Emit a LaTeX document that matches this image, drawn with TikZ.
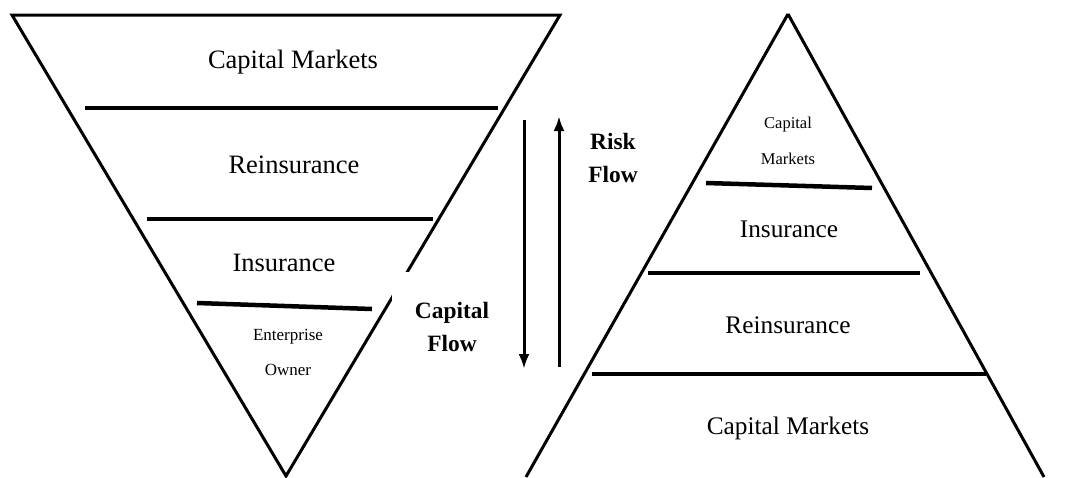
\documentclass[tikz,border=0pt]{standalone}
\usepackage{fontspec}
\setmainfont{Liberation Serif}
\usetikzlibrary{arrows.meta}

\begin{document}
\begin{tikzpicture}[x=1pt,y=-1pt,
    edge/.style={line width=3pt,line join=miter},
    band/.style={line width=4.5pt},
    flow/.style={line width=3pt,-{Latex[length=15pt,width=11pt]}},
    big/.style={font=\fontsize{26.5}{30}\selectfont},
    mid/.style={font=\fontsize{25.3}{30}\selectfont},
    tiny/.style={font=\fontsize{17}{35}\selectfont,align=center},
    bold/.style={font=\fontsize{23.4}{33}\selectfont\bfseries,align=center}]
    \useasboundingbox (0,0) rectangle (1069,477);
    % inverted triangle
    \draw[edge] (12,15) -- (560,15) -- (286,476) -- cycle;
    \draw[band] (85,108) -- (498,108);
    \draw[band] (147,219) -- (433,219);
    \draw[band] (197,303) -- (372,309);
    \node[big] (capL) at (293,62) {Capital Markets};
    \node[big] (reinL) at (294,165) {Reinsurance};
    \node[big] (insL) at (284,263) {Insurance};
    \node[tiny] (entL) at (288,352) {Enterprise\\Owner};
    \node[bold,fill=white,minimum width=121pt,minimum height=110pt] (capflow) at (452,327) {Capital\\Flow};
    % flows
    \coordinate (capTop) at (524,120);
    \coordinate (capBot) at (524,369);
    \coordinate (riskBot) at (559,367);
    \coordinate (riskTop) at (559,116);
    \draw[flow] (capTop) -- (capBot);
    \draw[flow] (riskBot) -- (riskTop);
    \node[bold] (riskflow) at (613,158) {Risk\\Flow};
    % pyramid
    \draw[edge] (788,14) -- (1044,477) (788,14) -- (526,477);
    \draw[band] (706,183) -- (872,188);
    \draw[band] (648,273) -- (920,273);
    \draw[band] (592,374) -- (986,374);
    \node[tiny,font=\fontsize{16.5}{36}\selectfont] (capR) at (788,141) {Capital\\Markets};
    \node[mid] (insR) at (789,229) {Insurance};
    \node[mid] (reinR) at (788,325) {Reinsurance};
    \node[mid] (capMR) at (788,428) {Capital Markets};
\end{tikzpicture}
\end{document}
